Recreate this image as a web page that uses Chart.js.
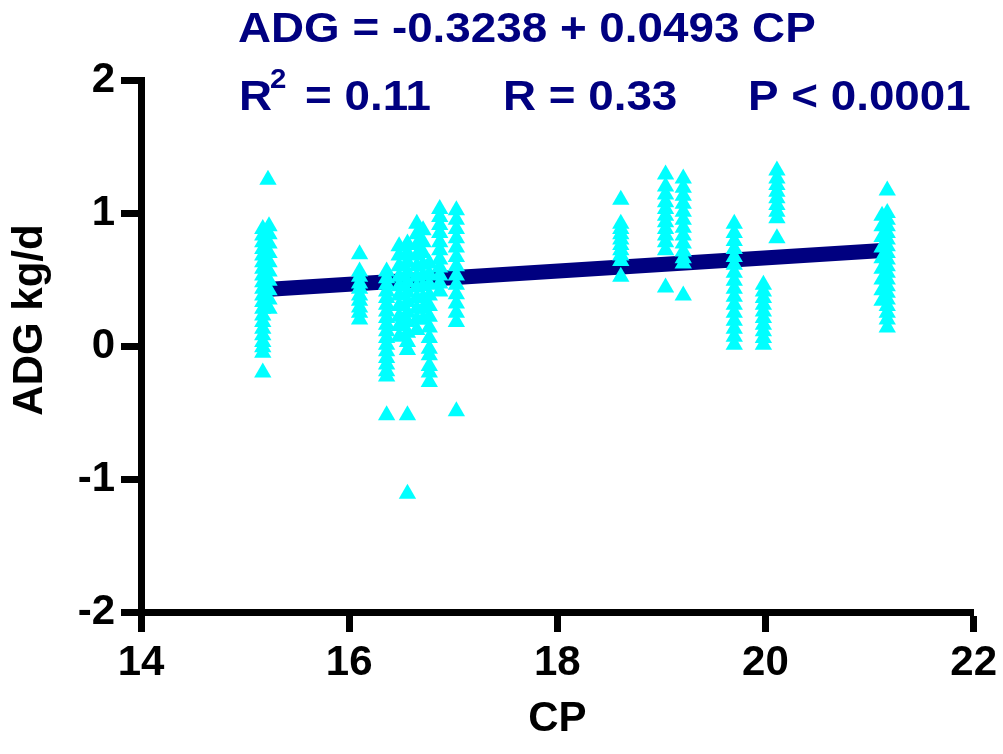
<!DOCTYPE html>
<html>
<head>
<meta charset="utf-8">
<script src="https://cdn.jsdelivr.net/npm/chart.js@4/dist/chart.umd.min.js"></script>
<style>
  html, body { margin: 0; padding: 0; background: #ffffff; }
  #wrap { width: 1003px; height: 754px; position: relative; }
</style>
</head>
<body>
<div id="wrap"><canvas id="c"></canvas></div>
<script>
// --- data --- //
const colCP = [15.17, 15.23, 15.22, 16.10, 16.36, 16.48, 16.56, 16.65, 16.71, 16.77, 16.87, 17.03,
               18.61, 19.04, 19.21, 19.70, 19.98, 20.11, 21.12, 21.17];
const colADG = [
  [0.88, 0.83, 0.78, 0.73, 0.68, 0.63, 0.58, 0.53, 0.48, 0.43, 0.38, 0.33, 0.28, 0.23, 0.18, 0.13, 0.08, 0.03, -0.01, -0.05, -0.20],
  [0.90, 0.84, 0.77, 0.70, 0.63, 0.56, 0.49, 0.42, 0.35, 0.28],
  [1.25],
  [0.69, 0.56, 0.52, 0.47, 0.43, 0.38, 0.34, 0.29, 0.25, 0.20],
  [0.56, 0.51, 0.46, 0.41, 0.36, 0.31, 0.26, 0.21, 0.16, 0.11, 0.06, 0.01, -0.04, -0.09, -0.14, -0.19, -0.23, -0.52],
  [0.75, 0.68, 0.60, 0.52, 0.45, 0.38, 0.30, 0.22, 0.15, 0.07],
  [0.77, 0.70, 0.63, 0.55, 0.48, 0.40, 0.33, 0.25, 0.18, 0.10, 0.03, -0.03, -0.52, -1.11],
  [0.92, 0.84, 0.76, 0.68, 0.60, 0.52, 0.44, 0.36, 0.28, 0.20, 0.12],
  [0.87, 0.78, 0.70, 0.61, 0.53, 0.45, 0.36, 0.28, 0.20],
  [0.62, 0.54, 0.46, 0.38, 0.30, 0.22, 0.14, 0.06, -0.02, -0.07, -0.15, -0.20, -0.27],
  [1.03, 0.97, 0.91, 0.85, 0.78, 0.72, 0.65, 0.59, 0.53, 0.47, 0.41],
  [1.02, 0.95, 0.88, 0.81, 0.74, 0.67, 0.60, 0.53, 0.46, 0.39, 0.32, 0.25, 0.18, -0.49],
  [1.10, 0.92, 0.88, 0.84, 0.80, 0.76, 0.72, 0.68, 0.64, 0.52],
  [1.29, 1.20, 1.14, 1.08, 1.03, 0.98, 0.93, 0.88, 0.83, 0.78, 0.72, 0.44],
  [1.26, 1.19, 1.13, 1.07, 1.01, 0.95, 0.89, 0.83, 0.77, 0.71, 0.66, 0.62, 0.38],
  [0.92, 0.85, 0.79, 0.73, 0.67, 0.61, 0.55, 0.49, 0.43, 0.37, 0.31, 0.25, 0.19, 0.13, 0.07, 0.01],
  [0.46, 0.41, 0.36, 0.31, 0.26, 0.21, 0.16, 0.11, 0.06, 0.01],
  [1.32, 1.26, 1.21, 1.16, 1.11, 1.06, 1.01, 0.96, 0.81],
  [0.98, 0.90, 0.82, 0.74, 0.66, 0.58, 0.50, 0.42, 0.34],
  [1.17, 1.00, 0.95, 0.90, 0.85, 0.80, 0.75, 0.70, 0.65, 0.60, 0.55, 0.50, 0.45, 0.40, 0.35, 0.30, 0.25, 0.20, 0.14]
];
const fitIntercept = -0.3238;
const fitSlope = 0.0493;
const fitRange = [15.2, 21.2];
const xTicks = [14, 16, 18, 20, 22];
const yTicks = [-2, -1, 0, 1, 2];

const NAVY = "#000080";
const FONT = "'Liberation Sans', Arial, sans-serif";

let points = [];
colCP.forEach((cp, i) => colADG[i].forEach(v => points.push({x: cp, y: v})));
const fitLine = fitRange.map(x => ({x: x, y: fitIntercept + fitSlope * x}));

// the stats text is a bit wider than Arial, stretch it a little
function wideText(ctx, str, x, y) {
  ctx.save();
  ctx.translate(x, y);
  ctx.scale(1.09, 1);
  ctx.fillText(str, 0, 0);
  ctx.restore();
}

// equation text + rotated y title
const textPlugin = {
  id: "texts",
  afterDraw(chart) {
    const ctx = chart.ctx;
    ctx.save();
    ctx.fillStyle = NAVY;
    ctx.textAlign = "left";
    ctx.textBaseline = "alphabetic";
    ctx.font = "bold 42px " + FONT;
    wideText(ctx, "ADG = -0.3238 + 0.0493 CP", 238, 42);
    wideText(ctx, "R", 239, 110);
    wideText(ctx, "= 0.11", 305, 110);
    wideText(ctx, "R = 0.33", 503, 110);
    wideText(ctx, "P < 0.0001", 748, 110);
    ctx.font = "bold 27px " + FONT;
    wideText(ctx, "2", 270, 88);

    ctx.fillStyle = "#000000";
    ctx.font = "bold 42px " + FONT;
    ctx.translate(30, 320);
    ctx.rotate(-Math.PI / 2);
    ctx.textAlign = "center";
    ctx.textBaseline = "middle";
    ctx.fillText("ADG kg/d", 0, 0);
    ctx.restore();
  }
};

const axisCommon = {
  grid: {display: true, drawOnChartArea: false, drawTicks: true, tickLength: 20, tickWidth: 7, tickColor: "#000000"},
  border: {display: true, width: 7, color: "#000000"}
};

new Chart(document.getElementById("c"), {
  type: "scatter",
  data: {
    datasets: [
      {
        label: "ADG",
        data: points,
        pointStyle: "triangle",
        pointRadius: 10,
        pointHoverRadius: 10,
        backgroundColor: "#00FFFF",
        borderWidth: 0,
        order: 1
      },
      {
        label: "fit",
        type: "line",
        data: fitLine,
        borderColor: NAVY,
        borderWidth: 15,
        borderCapStyle: "butt",
        pointRadius: 0,
        fill: false,
        order: 2
      }
    ]
  },
  options: {
    responsive: true,
    maintainAspectRatio: false,
    animation: false,
    layout: {padding: {top: 80, right: 25, left: 0, bottom: 0}},
    plugins: {legend: {display: false}, tooltip: {enabled: false}},
    scales: {
      x: {
        type: "linear", min: 14, max: 22,
        afterBuildTicks: s => { s.ticks = xTicks.map(v => ({value: v})); },
        afterFit: s => { s.height = 142; },
        ticks: {color: "#000000", padding: 6, font: {family: FONT, size: 42, weight: "bold"}},
        title: {display: true, text: "CP", color: "#000000", padding: {top: 0, bottom: 9}, font: {family: FONT, size: 42, weight: "bold"}},
        ...axisCommon
      },
      y: {
        type: "linear", min: -2, max: 2,
        afterBuildTicks: s => { s.ticks = yTicks.map(v => ({value: v})); },
        afterFit: s => { s.width = 141; },
        ticks: {color: "#000000", padding: 6, font: {family: FONT, size: 42, weight: "bold"}},
        title: {display: false},
        ...axisCommon
      }
    }
  },
  plugins: [textPlugin]
});
</script>
</body>
</html>
